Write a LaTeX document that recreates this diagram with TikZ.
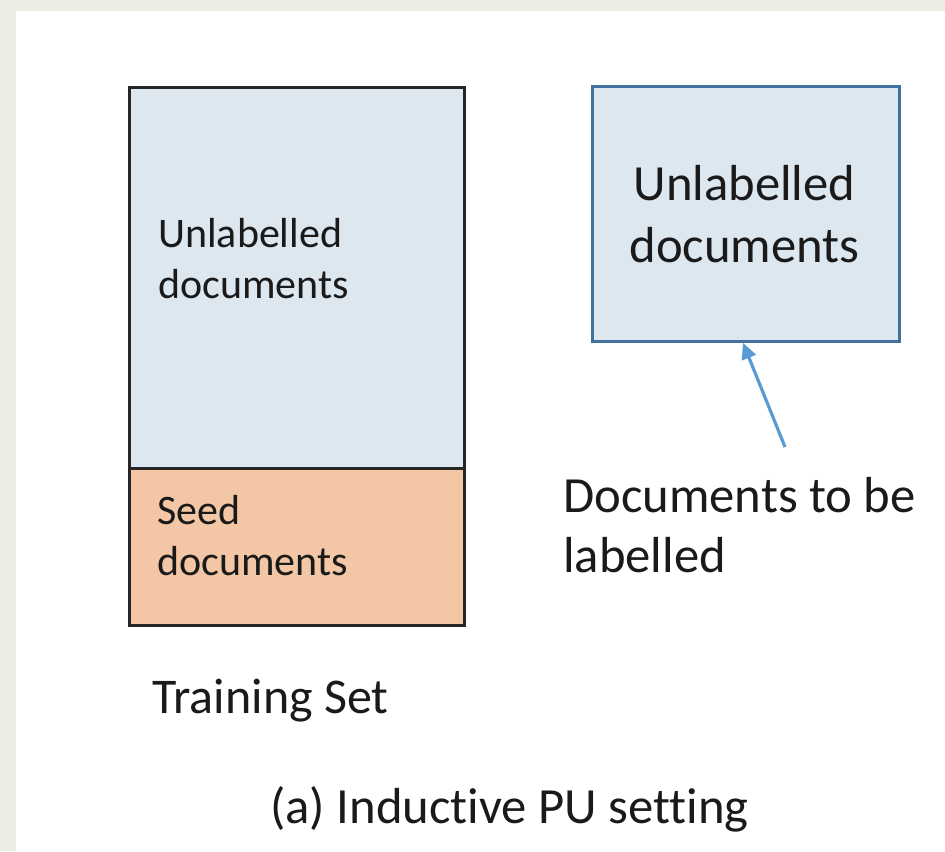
\documentclass[tikz,border=0pt]{standalone}
\usepackage{fontspec}
\setmainfont[Ligatures=NoCommon]{Carlito}
\usetikzlibrary{arrows.meta}

\definecolor{pagegray}{HTML}{EDEDE6}
\definecolor{unlabfill}{HTML}{DCE7F0}
\definecolor{seedfill}{HTML}{F3C7A5}
\definecolor{boxblue}{HTML}{41719C}
\definecolor{arrowblue}{HTML}{5B9BD5}
\definecolor{textdark}{HTML}{1A1A1A}

\tikzset{
  setbox/.style={draw=black!85, line width=1.9pt, inner sep=0pt},
  testbox/.style={draw=boxblue, line width=2.1pt, fill=unlabfill, inner sep=0pt},
  smalltxt/.style={font=\fontsize{31.5}{38.25}\selectfont, text=textdark, inner sep=0pt, align=left},
  bigtxt/.style={font=\fontsize{38}{46}\selectfont, text=textdark, inner sep=0pt},
  pointer/.style={draw=arrowblue, line width=2.4pt,
    -{Triangle[length=12pt, width=11pt]}}
}

\begin{document}
\begin{tikzpicture}[x=0.75pt, y=-0.75pt]
  % page background and white sheet
  \fill[pagegray] (0,0) rectangle (945,851);
  \fill[white] (16,11) rectangle (945,851);
  \useasboundingbox (0,0) rectangle (945,851);

  % training set: unlabelled part above the seed part
  \path[fill=unlabfill] (128,86) rectangle (463,467);
  \path[fill=seedfill] (128,467) rectangle (463,624);
  \node[setbox, minimum width=335*0.75pt, minimum height=381*0.75pt, anchor=north west] (trainU) at (128,86) {};
  \node[setbox, minimum width=335*0.75pt, minimum height=157*0.75pt, anchor=north west] (trainS) at (128,467) {};

  % multi-line labels are placed by the baseline of their last line
  \node[smalltxt, anchor=base west] (tU) at (158,298) {Unlabelled\\documents};
  \node[smalltxt, anchor=base west] (tS) at (157,575) {Seed\\documents};

  % test set
  \node[testbox, minimum width=307*0.75pt, minimum height=255*0.75pt, anchor=north west] (test) at (591,85) {};
  \node[bigtxt, align=center, anchor=base] (tT) at (744.5,262) {Unlabelled\\documents};

  % annotation
  \node[bigtxt, align=left, anchor=base west, font=\fontsize{38}{45}\selectfont] (note) at (563,572) {Documents to be\\labelled};
  \coordinate (tail) at (785,447);
  \draw[pointer] (tail) -- (test.south -| 743,0);

  % captions
  \node[bigtxt, anchor=base west, font=\fontsize{37.5}{45}\selectfont] (train) at (152,713) {Training Set};
  \node[bigtxt, anchor=base west] (cap) at (270,823) {(a) Inductive PU setting};
\end{tikzpicture}
\end{document}
